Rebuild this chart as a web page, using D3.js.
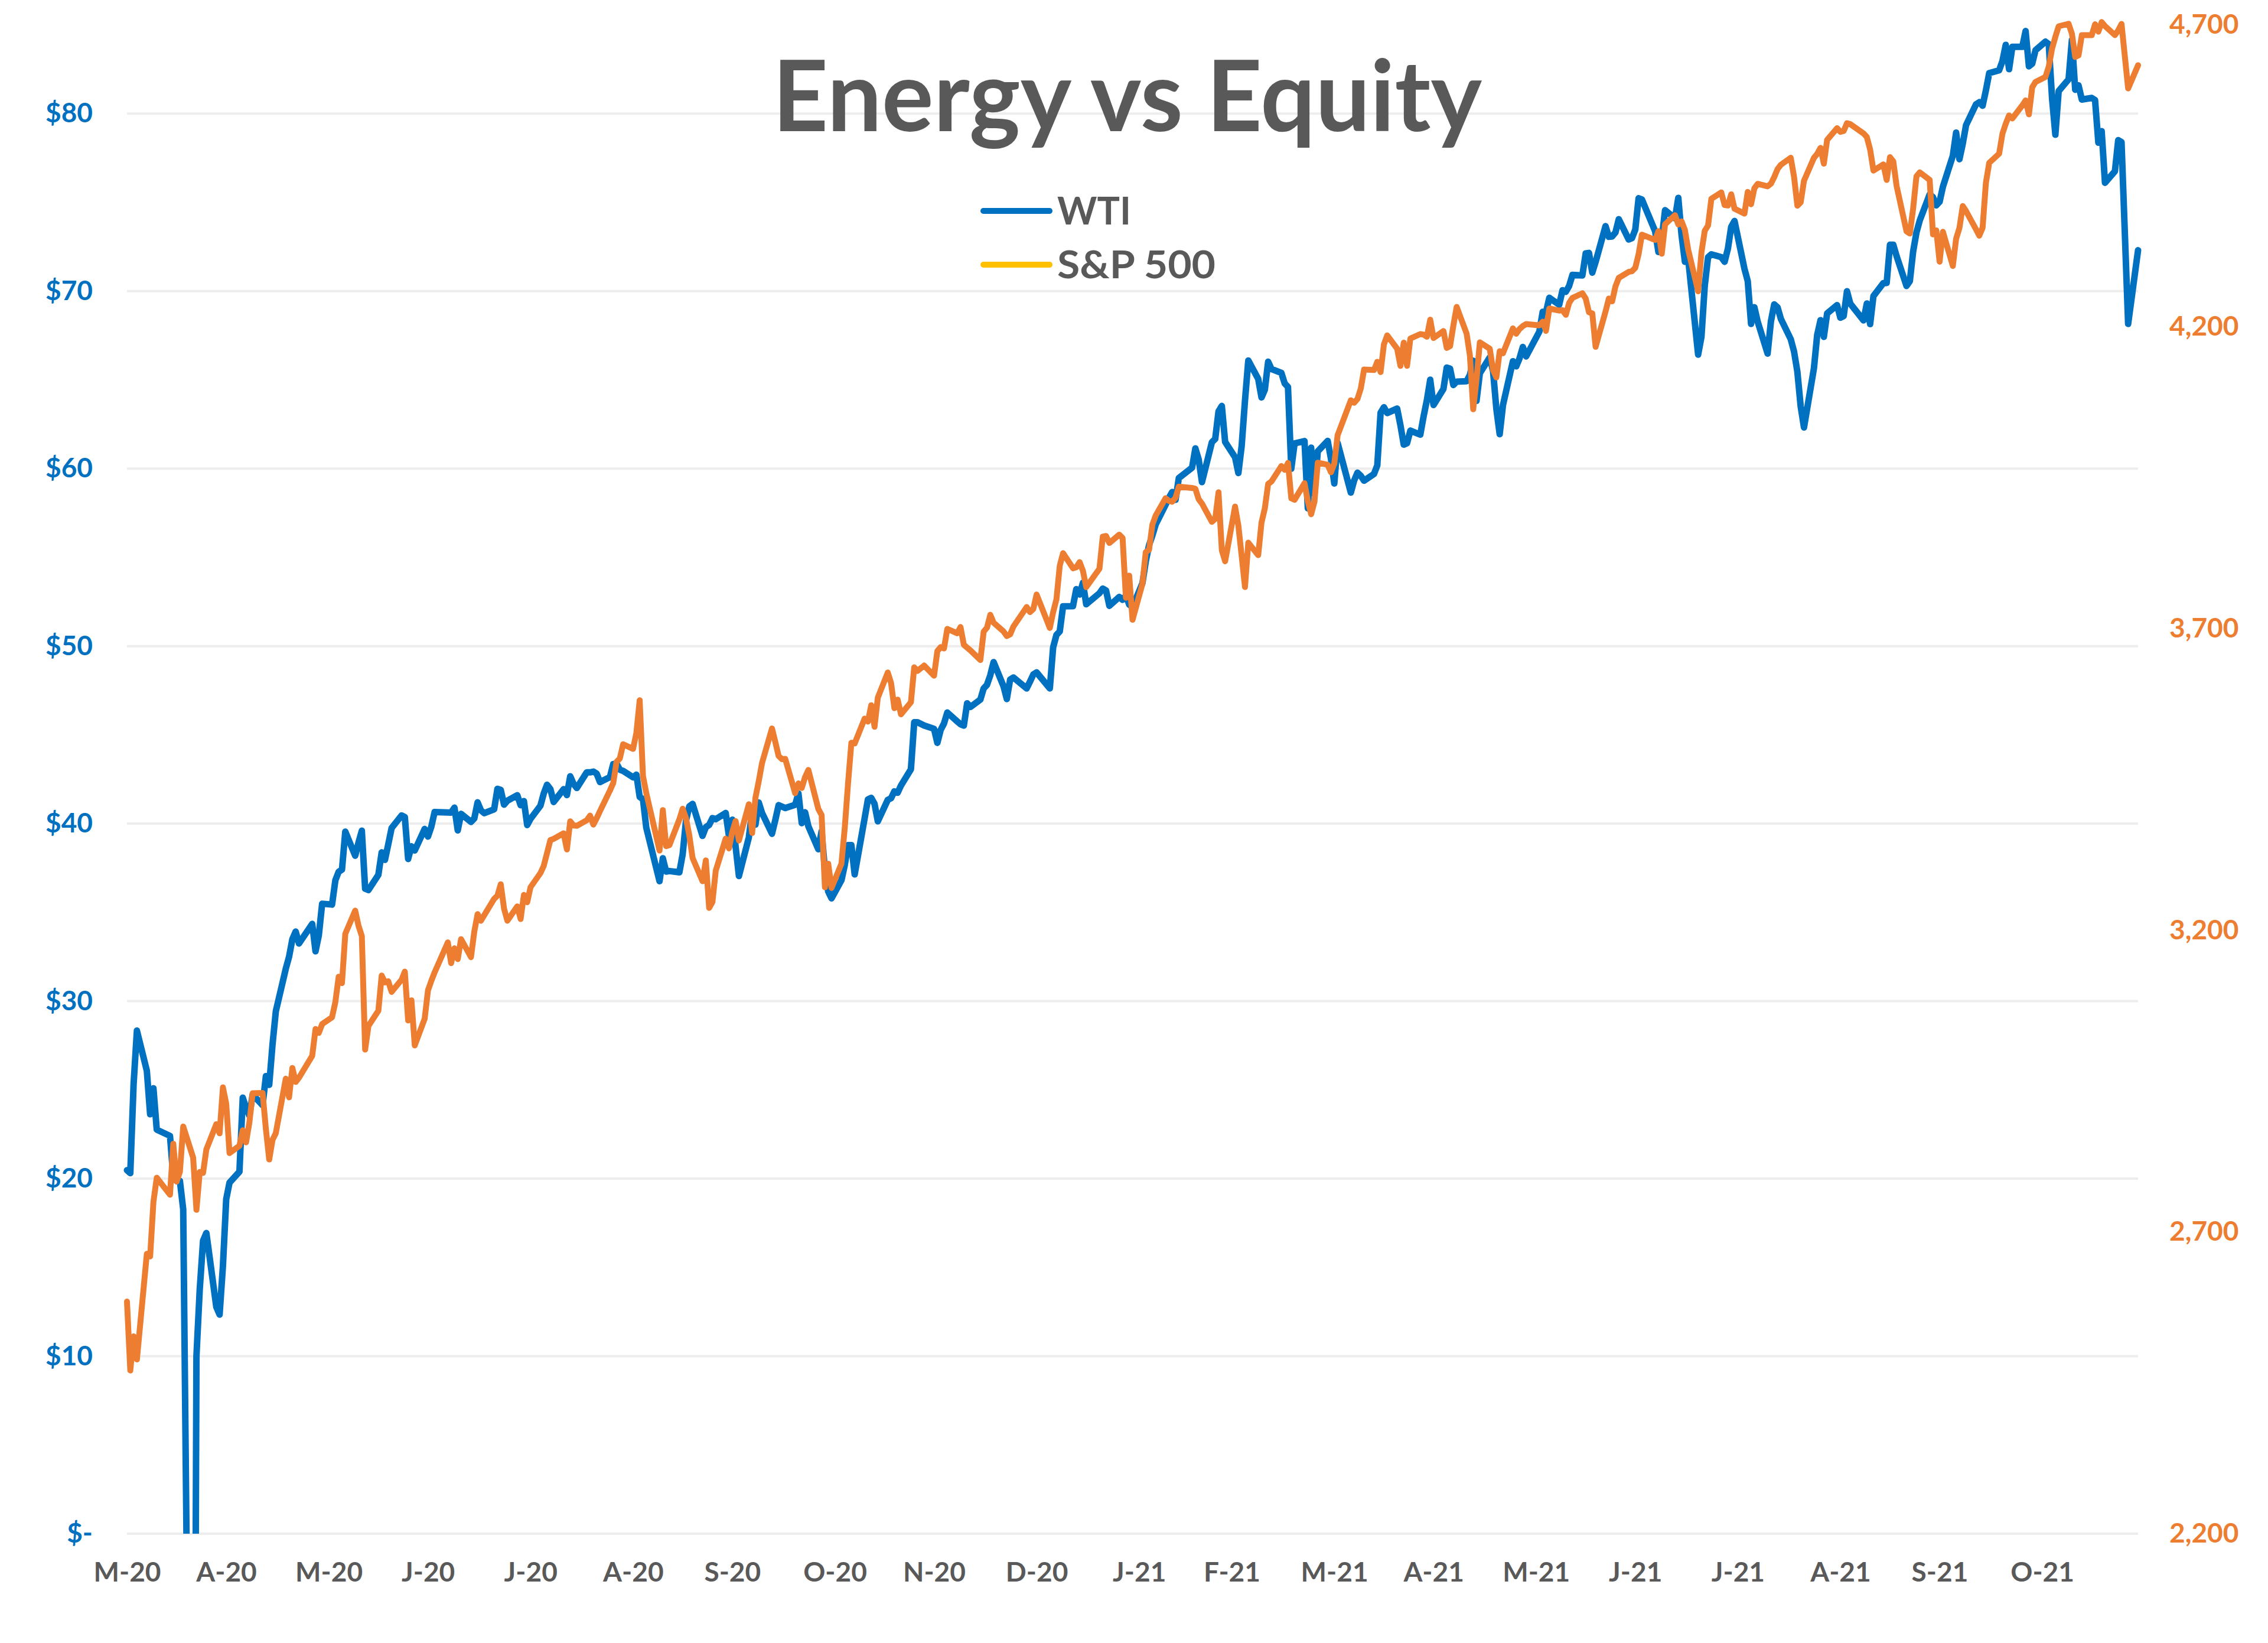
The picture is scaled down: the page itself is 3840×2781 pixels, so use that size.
<!DOCTYPE html>
<html>
<head>
<meta charset="utf-8">
<script src="https://cdn.jsdelivr.net/npm/d3@7"></script>
<style>
html,body{margin:0;padding:0;background:#ffffff;}
svg{display:block;}
</style>
</head>
<body>
<svg id="chart" width="3840" height="2781"></svg>
<script>
// ---------------- DATA ----------------
const chartTitle = "Energy vs Equity";
const seriesNames = ["WTI", "S&P 500"];

const dates = [
"2020-03-31",
"2020-04-01","2020-04-02","2020-04-03","2020-04-06","2020-04-07","2020-04-08","2020-04-09","2020-04-13","2020-04-14","2020-04-15","2020-04-16","2020-04-17","2020-04-20","2020-04-21","2020-04-22","2020-04-23","2020-04-24","2020-04-27","2020-04-28","2020-04-29","2020-04-30",
"2020-05-01","2020-05-04","2020-05-05","2020-05-06","2020-05-07","2020-05-08","2020-05-11","2020-05-12","2020-05-13","2020-05-14","2020-05-15","2020-05-18","2020-05-19","2020-05-20","2020-05-21","2020-05-22","2020-05-26","2020-05-27","2020-05-28","2020-05-29",
"2020-06-01","2020-06-02","2020-06-03","2020-06-04","2020-06-05","2020-06-08","2020-06-09","2020-06-10","2020-06-11","2020-06-12","2020-06-15","2020-06-16","2020-06-17","2020-06-18","2020-06-19","2020-06-22","2020-06-23","2020-06-24","2020-06-25","2020-06-26","2020-06-29","2020-06-30",
"2020-07-01","2020-07-02","2020-07-06","2020-07-07","2020-07-08","2020-07-09","2020-07-10","2020-07-13","2020-07-14","2020-07-15","2020-07-16","2020-07-17","2020-07-20","2020-07-21","2020-07-22","2020-07-23","2020-07-24","2020-07-27","2020-07-28","2020-07-29","2020-07-30","2020-07-31",
"2020-08-03","2020-08-04","2020-08-05","2020-08-06","2020-08-07","2020-08-10","2020-08-11","2020-08-12","2020-08-13","2020-08-14","2020-08-17","2020-08-18","2020-08-19","2020-08-20","2020-08-21","2020-08-24","2020-08-25","2020-08-26","2020-08-27","2020-08-28","2020-08-31",
"2020-09-01","2020-09-02","2020-09-03","2020-09-04","2020-09-08","2020-09-09","2020-09-10","2020-09-11","2020-09-14","2020-09-15","2020-09-16","2020-09-17","2020-09-18","2020-09-21","2020-09-22","2020-09-23","2020-09-24","2020-09-25","2020-09-28","2020-09-29","2020-09-30",
"2020-10-01","2020-10-02","2020-10-05","2020-10-06","2020-10-07","2020-10-08","2020-10-09","2020-10-12","2020-10-13","2020-10-14","2020-10-15","2020-10-16","2020-10-19","2020-10-20","2020-10-21","2020-10-22","2020-10-23","2020-10-26","2020-10-27","2020-10-28","2020-10-29","2020-10-30",
"2020-11-02","2020-11-03","2020-11-04","2020-11-05","2020-11-06","2020-11-09","2020-11-10","2020-11-11","2020-11-12","2020-11-13","2020-11-16","2020-11-17","2020-11-18","2020-11-19","2020-11-20","2020-11-23","2020-11-24","2020-11-25","2020-11-27","2020-11-30",
"2020-12-01","2020-12-02","2020-12-03","2020-12-04","2020-12-07","2020-12-08","2020-12-09","2020-12-10","2020-12-11","2020-12-14","2020-12-15","2020-12-16","2020-12-17","2020-12-18","2020-12-21","2020-12-22","2020-12-23","2020-12-24","2020-12-28","2020-12-29","2020-12-30","2020-12-31",
"2021-01-04","2021-01-05","2021-01-06","2021-01-07","2021-01-08","2021-01-11","2021-01-12","2021-01-13","2021-01-14","2021-01-15","2021-01-19","2021-01-20","2021-01-21","2021-01-22","2021-01-25","2021-01-26","2021-01-27","2021-01-28","2021-01-29",
"2021-02-01","2021-02-02","2021-02-03","2021-02-04","2021-02-05","2021-02-08","2021-02-09","2021-02-10","2021-02-11","2021-02-12","2021-02-16","2021-02-17","2021-02-18","2021-02-19","2021-02-22","2021-02-23","2021-02-24","2021-02-25","2021-02-26",
"2021-03-01","2021-03-02","2021-03-03","2021-03-04","2021-03-05","2021-03-08","2021-03-09","2021-03-10","2021-03-11","2021-03-12","2021-03-15","2021-03-16","2021-03-17","2021-03-18","2021-03-19","2021-03-22","2021-03-23","2021-03-24","2021-03-25","2021-03-26","2021-03-29","2021-03-30","2021-03-31",
"2021-04-01","2021-04-05","2021-04-06","2021-04-07","2021-04-08","2021-04-09","2021-04-12","2021-04-13","2021-04-14","2021-04-15","2021-04-16","2021-04-19","2021-04-20","2021-04-21","2021-04-22","2021-04-23","2021-04-26","2021-04-27","2021-04-28","2021-04-29","2021-04-30",
"2021-05-03","2021-05-04","2021-05-05","2021-05-06","2021-05-07","2021-05-10","2021-05-11","2021-05-12","2021-05-13","2021-05-14","2021-05-17","2021-05-18","2021-05-19","2021-05-20","2021-05-21","2021-05-24","2021-05-25","2021-05-26","2021-05-27","2021-05-28",
"2021-06-01","2021-06-02","2021-06-03","2021-06-04","2021-06-07","2021-06-08","2021-06-09","2021-06-10","2021-06-11","2021-06-14","2021-06-15","2021-06-16","2021-06-17","2021-06-18","2021-06-21","2021-06-22","2021-06-23","2021-06-24","2021-06-25","2021-06-28","2021-06-29","2021-06-30",
"2021-07-01","2021-07-02","2021-07-06","2021-07-07","2021-07-08","2021-07-09","2021-07-12","2021-07-13","2021-07-14","2021-07-15","2021-07-16","2021-07-19","2021-07-20","2021-07-21","2021-07-22","2021-07-23","2021-07-26","2021-07-27","2021-07-28","2021-07-29","2021-07-30",
"2021-08-02","2021-08-03","2021-08-04","2021-08-05","2021-08-06","2021-08-09","2021-08-10","2021-08-11","2021-08-12","2021-08-13","2021-08-16","2021-08-17","2021-08-18","2021-08-19","2021-08-20","2021-08-23","2021-08-24","2021-08-25","2021-08-26","2021-08-27","2021-08-30","2021-08-31",
"2021-09-01","2021-09-02","2021-09-03","2021-09-07","2021-09-08","2021-09-09","2021-09-10","2021-09-13","2021-09-14","2021-09-15","2021-09-16","2021-09-17","2021-09-20","2021-09-21","2021-09-22","2021-09-23","2021-09-24","2021-09-27","2021-09-28","2021-09-29","2021-09-30",
"2021-10-01","2021-10-04","2021-10-05","2021-10-06","2021-10-07","2021-10-08","2021-10-11","2021-10-12","2021-10-13","2021-10-14","2021-10-15","2021-10-18","2021-10-19","2021-10-20","2021-10-21","2021-10-22","2021-10-25","2021-10-26","2021-10-27","2021-10-28","2021-10-29",
"2021-11-01","2021-11-02","2021-11-03","2021-11-04","2021-11-05","2021-11-08","2021-11-09","2021-11-10","2021-11-11","2021-11-12","2021-11-15","2021-11-16","2021-11-17","2021-11-18","2021-11-19","2021-11-22","2021-11-23","2021-11-24","2021-11-26","2021-11-29"
];

const wti = [
20.48,
20.31,25.32,28.34,26.08,23.63,25.09,22.76,22.41,20.11,19.87,19.87,18.27,-37.63,10.01,13.78,16.50,16.94,12.78,12.34,15.06,18.84,
19.78,20.39,24.56,23.99,23.55,24.74,24.14,25.78,25.29,27.56,29.43,31.82,32.50,33.49,33.92,33.25,34.35,32.81,33.71,35.49,
35.44,36.81,37.29,37.41,39.55,38.19,38.94,39.60,36.34,36.26,37.12,38.38,37.96,38.84,39.75,40.46,40.37,38.01,38.72,38.49,39.70,39.27,
39.82,40.65,40.63,40.62,40.90,39.62,40.55,40.10,40.29,41.20,40.75,40.59,40.81,41.96,41.90,41.07,41.29,41.60,41.04,41.27,39.92,40.27,
41.01,41.70,42.19,41.95,41.22,41.94,41.61,42.67,42.24,42.01,42.89,42.89,42.93,42.82,42.34,42.62,43.35,43.39,43.04,42.97,42.61,
42.76,41.51,41.37,39.77,36.76,38.05,37.30,37.33,37.26,38.28,40.16,40.97,41.11,39.31,39.80,39.93,40.31,40.25,40.60,39.29,40.22,
38.72,37.05,39.22,40.67,39.95,41.19,40.60,39.43,40.20,41.04,40.96,40.88,41.06,41.70,40.03,40.64,39.85,38.56,39.57,37.39,36.17,35.79,
36.81,37.66,38.79,38.79,37.14,40.29,41.36,41.45,41.12,40.13,41.34,41.43,41.82,41.74,42.15,43.06,45.71,45.71,45.53,45.34,
44.55,45.28,45.64,46.26,45.76,45.60,45.52,46.78,46.57,46.99,47.62,47.82,48.36,49.10,47.74,47.02,48.12,48.23,47.62,48.00,48.40,48.52,
47.62,49.93,50.63,50.83,52.24,52.25,53.21,52.91,53.57,52.36,52.98,53.24,53.13,52.27,52.77,52.61,52.85,52.34,52.20,
53.55,54.76,55.69,56.23,56.85,57.97,58.36,58.68,58.24,59.47,60.05,61.14,60.52,59.24,61.49,61.67,63.22,63.53,61.50,
60.64,59.75,61.28,63.83,66.09,65.05,64.01,64.44,66.02,65.61,65.39,64.80,64.60,60.00,61.42,61.55,57.76,61.18,58.56,60.97,61.56,60.55,59.16,
61.45,58.65,59.33,59.77,59.60,59.32,59.70,60.18,63.15,63.46,63.13,63.38,62.44,61.35,61.43,62.14,61.91,62.94,63.86,65.01,63.58,
64.49,65.69,65.63,64.71,64.90,64.92,65.28,66.08,63.82,65.37,66.27,65.49,63.36,61.94,63.58,66.05,65.76,66.21,66.85,66.32,
67.72,68.83,68.81,69.62,69.23,70.05,69.96,70.29,70.91,70.88,72.12,72.15,71.04,71.64,73.66,73.06,73.08,73.30,74.05,72.91,72.98,73.47,
75.23,75.16,73.37,72.20,72.94,74.56,74.10,75.25,73.13,71.65,71.81,66.42,67.42,70.30,71.91,72.07,71.91,71.65,72.39,73.62,73.95,
71.26,70.56,68.15,69.09,68.28,66.48,68.29,69.25,69.09,68.44,67.29,66.59,65.46,63.50,62.32,65.64,67.54,68.36,67.42,68.74,69.21,68.50,
68.59,69.99,69.29,68.35,69.30,68.14,69.72,70.45,70.46,72.61,72.61,71.97,70.29,70.56,72.23,73.30,73.98,75.45,75.29,74.83,75.03,
75.88,77.62,78.93,77.43,78.30,79.35,80.52,80.64,80.44,81.31,82.28,82.44,82.96,83.87,82.50,83.76,83.76,84.65,82.66,82.81,83.57,
84.05,83.91,80.86,78.81,81.27,81.93,84.15,81.34,81.59,80.79,80.88,80.76,78.36,79.01,76.10,76.75,78.50,78.39,68.15,72.30
];

const spx = [
2584.59,
2470.50,2526.90,2488.65,2663.68,2659.41,2749.98,2789.82,2761.63,2846.06,2783.36,2799.55,2874.56,2823.16,2736.56,2799.31,2797.80,2836.74,2878.48,2863.39,2939.51,2912.43,
2830.71,2842.74,2868.44,2848.42,2881.19,2929.80,2930.32,2870.12,2820.00,2852.50,2863.70,2953.91,2922.94,2971.61,2948.51,2955.45,2991.77,3036.13,3029.73,3044.31,
3055.73,3080.82,3122.87,3112.35,3193.93,3232.39,3207.18,3190.14,3002.10,3041.31,3066.59,3124.74,3113.49,3115.34,3097.74,3117.86,3131.29,3050.33,3083.76,3009.05,3053.24,3100.29,
3115.86,3130.01,3179.72,3145.32,3169.94,3152.05,3185.04,3155.22,3197.52,3226.56,3215.57,3224.73,3251.84,3257.30,3276.02,3235.66,3215.63,3239.41,3218.44,3258.44,3246.22,3271.12,
3294.61,3306.51,3327.77,3349.16,3351.28,3360.47,3333.69,3380.35,3373.43,3372.85,3381.99,3389.78,3374.85,3385.51,3397.16,3431.28,3443.62,3478.73,3484.55,3508.01,3500.31,
3526.65,3580.84,3455.06,3426.96,3331.84,3398.96,3339.19,3340.97,3383.54,3401.20,3385.49,3357.01,3319.47,3281.06,3315.57,3236.92,3246.59,3298.46,3351.60,3335.47,3363.00,
3380.80,3348.42,3408.60,3360.97,3419.44,3446.83,3477.14,3534.22,3511.93,3488.67,3483.34,3483.81,3426.92,3443.12,3435.56,3453.49,3465.39,3400.97,3390.68,3271.03,3310.11,3269.96,
3310.24,3369.16,3443.44,3510.45,3509.44,3550.50,3545.53,3572.66,3537.01,3585.15,3626.91,3609.53,3567.79,3581.87,3557.54,3577.59,3635.41,3629.65,3638.35,3621.63,
3662.45,3669.01,3666.72,3699.12,3691.96,3702.25,3672.82,3668.10,3663.46,3647.49,3694.62,3701.17,3722.48,3709.41,3694.92,3687.26,3690.01,3703.06,3735.36,3727.04,3732.04,3756.07,
3700.65,3726.86,3748.14,3803.79,3824.68,3799.61,3801.19,3809.84,3795.54,3768.25,3798.91,3851.85,3853.07,3841.47,3855.36,3849.62,3750.77,3787.38,3714.24,
3773.86,3826.31,3830.17,3871.74,3886.83,3915.59,3911.23,3909.88,3916.38,3934.83,3932.59,3931.33,3913.97,3906.71,3876.50,3881.37,3925.43,3829.34,3811.15,
3901.82,3870.29,3819.72,3768.47,3841.94,3821.35,3875.44,3898.81,3939.34,3943.34,3968.94,3962.71,3974.12,3915.46,3913.10,3940.59,3910.52,3889.14,3909.52,3974.54,3971.09,3958.55,3972.89,
4019.87,4077.91,4073.94,4079.95,4097.17,4128.80,4127.99,4141.59,4124.66,4170.42,4185.47,4163.26,4134.94,4173.42,4134.98,4180.17,4187.62,4186.72,4183.18,4211.47,4181.17,
4192.66,4164.66,4167.59,4201.62,4232.60,4188.43,4152.10,4063.04,4112.50,4173.85,4163.29,4127.83,4115.68,4159.12,4155.86,4197.05,4188.13,4195.99,4200.88,4204.11,
4202.04,4208.12,4192.85,4229.89,4226.52,4227.26,4219.55,4239.18,4247.44,4255.15,4246.59,4223.70,4221.86,4166.45,4224.79,4246.44,4241.84,4266.49,4280.70,4290.61,4291.80,4297.50,
4319.94,4352.34,4343.54,4358.13,4320.82,4369.55,4384.63,4369.21,4374.30,4360.03,4327.16,4258.49,4323.06,4358.69,4367.48,4411.79,4422.30,4401.46,4400.64,4419.15,4395.26,
4387.16,4423.15,4402.66,4429.10,4436.52,4432.35,4436.75,4447.70,4460.83,4468.00,4479.71,4448.08,4400.27,4405.80,4441.67,4479.53,4486.23,4496.19,4470.00,4509.37,4528.79,4522.68,
4524.09,4536.95,4535.43,4520.03,4514.07,4493.28,4458.58,4468.73,4443.05,4480.70,4473.75,4432.99,4357.73,4354.19,4395.64,4448.98,4455.48,4443.11,4352.63,4359.46,4307.54,
4357.04,4300.46,4345.72,4363.55,4399.76,4391.34,4361.19,4350.65,4363.80,4438.26,4471.37,4486.46,4519.63,4536.19,4549.78,4544.90,4566.48,4574.79,4551.68,4596.42,4605.38,
4613.67,4630.65,4660.57,4680.06,4697.53,4701.70,4685.25,4646.71,4649.27,4682.85,4682.80,4700.90,4688.67,4704.54,4697.96,4682.94,4690.70,4701.46,4594.62,4633.00
];

const monthTickDates = ["2020-03-31","2020-04-30","2020-05-31","2020-06-30","2020-07-31","2020-08-31","2020-09-30","2020-10-31","2020-11-30","2020-12-31",
  "2021-01-31","2021-02-28","2021-03-31","2021-04-30","2021-05-31","2021-06-30","2021-07-31","2021-08-31","2021-09-30","2021-10-31"];
const monthTickLabels = ["M-20","A-20","M-20","J-20","J-20","A-20","S-20","O-20","N-20","D-20",
  "J-21","F-21","M-21","A-21","M-21","J-21","J-21","A-21","S-21","O-21"];

const leftDomain = [0, 85];
const leftTicks = [0, 10, 20, 30, 40, 50, 60, 70, 80];
const leftTickLabels = ["$-", "$10", "$20", "$30", "$40", "$50", "$60", "$70", "$80"];

const rightDomain = [2200, 4700];
const rightTicks = [2200, 2700, 3200, 3700, 4200, 4700];
const rightTickLabels = ["2,200", "2,700", "3,200", "3,700", "4,200", "4,700"];

// ---------------- DRAWING ----------------
const parse = d3.timeParse("%Y-%m-%d");
const rows = dates.map((d, i) => ({ date: parse(d), wti: wti[i], spx: spx[i] }));

const plot = { left: 215, right: 3620, top: 42, bottom: 2596 };
const FONT = "Lato, 'Open Sans', 'DejaVu Sans', sans-serif";
const BLUE = "#0070C0", ORANGE = "#ED7D31", GOLD = "#FFC000", GRAY = "#595959";

const svg = d3.select("#chart");
svg.append("rect").attr("width", 3840).attr("height", 2781).attr("fill", "#ffffff");

const x = d3.scaleTime()
  .domain([rows[0].date, rows[rows.length - 1].date])
  .range([plot.left, plot.right]);
const yL = d3.scaleLinear().domain(leftDomain).range([plot.bottom, plot.top]);
const yR = d3.scaleLinear().domain(rightDomain).range([plot.bottom, plot.top]);

// gridlines
svg.append("g")
  .selectAll("line")
  .data(leftTicks)
  .join("line")
  .attr("x1", plot.left).attr("x2", plot.right)
  .attr("y1", d => yL(d)).attr("y2", d => yL(d))
  .attr("stroke", "#EDEDED").attr("stroke-width", 4);

// clip path
svg.append("defs").append("clipPath").attr("id", "plotclip")
  .append("rect").attr("x", 0).attr("y", 20).attr("width", 3840).attr("height", plot.bottom - 20);

// lines
const lineW = d3.line().x(d => x(d.date)).y(d => yL(d.wti));
const lineS = d3.line().x(d => x(d.date)).y(d => yR(d.spx));

const lines = svg.append("g").attr("clip-path", "url(#plotclip)");
lines.append("path").datum(rows).attr("d", lineW)
  .attr("fill", "none").attr("stroke", BLUE).attr("stroke-width", 11)
  .attr("stroke-linejoin", "round").attr("stroke-linecap", "round");
lines.append("path").datum(rows).attr("d", lineS)
  .attr("fill", "none").attr("stroke", ORANGE).attr("stroke-width", 10)
  .attr("stroke-linejoin", "round").attr("stroke-linecap", "round");

// axes
function styleAxis(g, color) {
  g.select(".domain").remove();
  g.selectAll(".tick line").remove();
  g.attr("font-family", FONT).attr("font-size", 46).attr("font-weight", "bold");
  g.selectAll("text").attr("fill", color);
}

svg.append("g")
  .attr("transform", `translate(${plot.left},0)`)
  .call(d3.axisLeft(yL).tickValues(leftTicks).tickFormat((d, i) => leftTickLabels[i]).tickSize(0).tickPadding(58))
  .call(g => styleAxis(g, BLUE));

svg.append("g")
  .attr("transform", `translate(${plot.right},0)`)
  .call(d3.axisRight(yR).tickValues(rightTicks).tickFormat((d, i) => rightTickLabels[i]).tickSize(0).tickPadding(53))
  .call(g => styleAxis(g, ORANGE));

svg.append("g")
  .attr("transform", `translate(0,${plot.bottom})`)
  .call(d3.axisBottom(x).tickValues(monthTickDates.map(parse)).tickFormat((d, i) => monthTickLabels[i]).tickSize(0).tickPadding(48))
  .call(g => styleAxis(g, GRAY));

// title
svg.append("text")
  .attr("x", 1308).attr("y", 222)
  .attr("font-family", FONT).attr("font-weight", "bold").attr("font-size", 167)
  .attr("fill", GRAY)
  .attr("textLength", 1201).attr("lengthAdjust", "spacingAndGlyphs")
  .text(chartTitle);

// legend
const legendColors = [BLUE, GOLD];
const legendY = [357, 448];
const legendTextW = [125, 268];
const legend = svg.append("g");
seriesNames.forEach((name, i) => {
  legend.append("line")
    .attr("x1", 1665).attr("x2", 1777)
    .attr("y1", legendY[i]).attr("y2", legendY[i])
    .attr("stroke", legendColors[i]).attr("stroke-width", 10).attr("stroke-linecap", "round");
  legend.append("text")
    .attr("x", 1790).attr("y", legendY[i] + 23)
    .attr("font-family", FONT).attr("font-size", 65).attr("font-weight", "bold")
    .attr("fill", GRAY)
    .attr("textLength", legendTextW[i]).attr("lengthAdjust", "spacingAndGlyphs")
    .text(name);
});
</script>
</body>
</html>
